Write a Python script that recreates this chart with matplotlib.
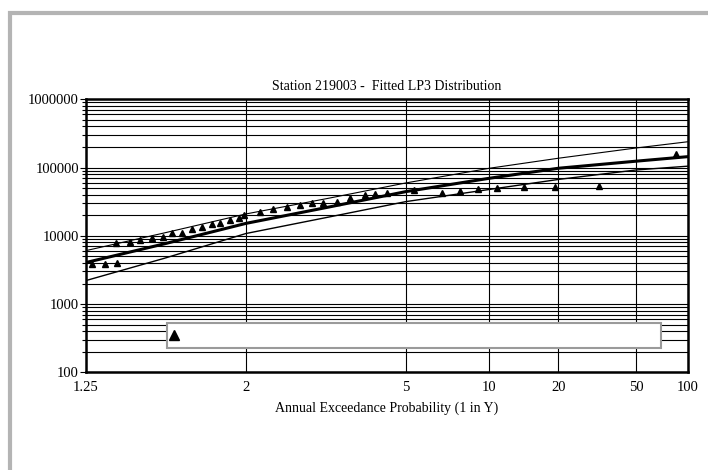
from statistics import NormalDist
import numpy as np
import matplotlib
matplotlib.use("Agg")
import matplotlib.pyplot as plt
from matplotlib.patches import Rectangle
from matplotlib.ticker import LogLocator, NullFormatter, NullLocator

# gauged annual maxima: return period (1 in Y) and flow
obs_y = [1.264, 1.298, 1.332, 1.329, 1.370, 1.407, 1.451, 1.497, 1.536, 1.583,
         1.635, 1.691, 1.753, 1.807, 1.878, 1.941, 1.982, 2.130, 2.260, 2.414,
         2.583, 2.749, 2.927, 3.169, 3.434, 3.778, 4.037, 4.373, 5.302, 6.627,
         7.68, 8.99, 10.74, 13.9, 19.3, 31.6, 84.3]
obs_q = [3810, 3880, 4010, 7740, 8140, 8710, 9220, 9730, 10900, 11100,
         12600, 13600, 14900, 15600, 17100, 18100, 20200, 22600, 24500, 26200,
         28300, 30000, 30500, 31700, 35500, 39700, 41000, 42900, 46900, 42900,
         45900, 48100, 49700, 51500, 52500, 54300, 156600]

# fitted LP3 curve and confidence limits
curve_y = [1.25, 1.5, 2, 3, 5, 10, 20, 50, 100]
fit_q = [4060, 7610, 15200, 26200, 44400, 69700, 97700, 124000, 144500]
upper_q = [6070, 11000, 20900, 35300, 59500, 97700, 137000, 193600, 239000]
lower_q = [2210, 4670, 10800, 18700, 31700, 47800, 67000, 92200, 104800]

xticks = [1.25, 2, 5, 10, 20, 50, 100]
xlabels = ["1.25", "2", "5", "10", "20", "50", "100"]
yticks = [100, 1000, 10000, 100000, 1000000]
ylabels = ["100", "1000", "10000", "100000", "1000000"]

nd = NormalDist()


def fwd(v):
    v = np.asarray(v, float)
    out = np.full(v.shape, np.nan)
    ok = np.isfinite(v)
    vv = np.clip(v[ok], 1.000001, 1e9)
    out[ok] = [nd.inv_cdf(1 - 1 / a) for a in vv]
    return out


def inv(z):
    z = np.asarray(z, float)
    out = np.full(z.shape, np.nan)
    ok = np.isfinite(z)
    zz = np.clip(z[ok], -6, 6)
    out[ok] = [1 / (1 - nd.cdf(a)) for a in zz]
    return out


plt.rcParams["font.family"] = ["Liberation Serif", "DejaVu Serif"]
plt.rcParams["font.size"] = 10.5

W, H = 708, 470
fig = plt.figure(figsize=(W / 100, H / 100), dpi=100)
ax = fig.add_axes([86 / W, 1 - 372.3 / H, (688 - 86) / W, (372.3 - 99.3) / H])

ax.set_xscale("function", functions=(fwd, inv))
ax.set_yscale("log")
ax.set_xlim(1.25, 100)
ax.set_ylim(100, 1e6)

ax.set_xticks(xticks)
ax.set_xticklabels(xlabels)
ax.xaxis.set_minor_locator(NullLocator())
ax.set_yticks(yticks)
ax.set_yticklabels(ylabels)
ax.yaxis.set_minor_locator(LogLocator(base=10, subs=range(2, 10)))
ax.yaxis.set_minor_formatter(NullFormatter())

ax.grid(which="both", axis="y", color="black", lw=0.8)
ax.grid(which="major", axis="x", color="black", lw=0.8)
ax.set_axisbelow(True)
ax.tick_params(axis="y", which="major", direction="out", length=4, width=0.8, pad=1)
ax.tick_params(axis="y", which="minor", direction="out", length=3, width=0.8)
ax.tick_params(axis="x", length=0, pad=6)
for s in ax.spines.values():
    s.set_linewidth(1.8)

ax.plot(curve_y, upper_q, color="black", lw=0.8, zorder=3)
ax.plot(curve_y, lower_q, color="black", lw=1.0, zorder=3)
ax.plot(curve_y, fit_q, color="black", lw=2.2, zorder=3)
ax.plot(obs_y, obs_q, ls="none", marker="^", color="black", ms=4, zorder=4)

ax.set_title("Station 219003 -  Fitted LP3 Distribution", pad=7, fontsize=10)
ax.set_xlabel("Annual Exceedance Probability (1 in Y)", labelpad=6, fontsize=10)

# legend box (empty text)
bx0, by0, bx1, by1 = 166.5, 322.7, 660.7, 347.7
ax.add_patch(Rectangle((bx0 + 1.5, H - by1 - 1.5), bx1 - bx0, by1 - by0,
                       transform=None, facecolor="#808080", edgecolor="none", zorder=5))
ax.add_patch(Rectangle((bx0, H - by1), bx1 - bx0, by1 - by0, transform=None,
                       facecolor="white", edgecolor="#9a9a9a", lw=1.5, zorder=6))
fig.add_artist(plt.Line2D([173.5 / W], [1 - 335 / H], ls="none", marker="^",
                          color="black", ms=7, zorder=7))

# grey page frame
fig.add_artist(Rectangle((10.3 / W, -0.2), 1.5, 1 + 0.2 - 12.5 / H,
                         transform=fig.transFigure, facecolor="none",
                         edgecolor="#b4b4b4", lw=3, clip_on=False))

fig.savefig("out.png", dpi=100)
